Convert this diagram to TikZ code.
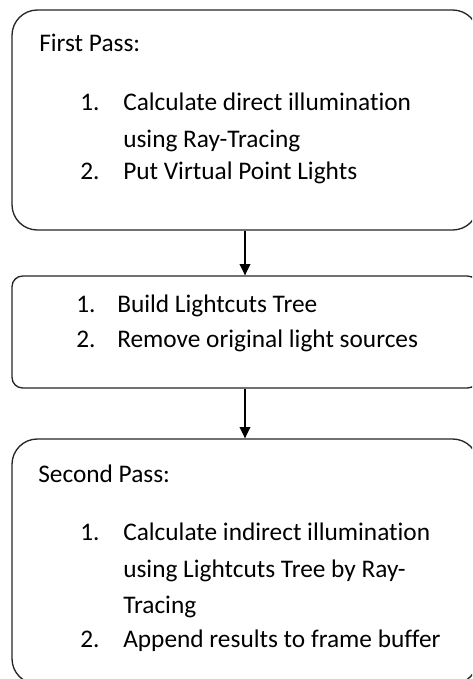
\documentclass[tikz,border=0pt]{standalone}
\usepackage{fontspec}
\setmainfont{Carlito}[Ligatures=NoCommon]
\usetikzlibrary{arrows.meta}
\begin{document}
\begin{tikzpicture}[x=0.75pt,y=-0.75pt,
  stage/.style={draw=black!85,line width=1pt,minimum width=466*0.75pt,inner sep=0pt},
  txt/.style={anchor=base west,inner sep=0pt,font=\fontsize{19pt}{22pt}\selectfont},
  flow/.style={draw=black,line width=1pt,-{Triangle[length=8.5pt,width=8pt]}}]
\useasboundingbox (0,0) rectangle (472,679);
\clip (0,0) rectangle (472,679);
\fill[white] (0,0) rectangle (472,679);

% the three stages of the renderer
\node[stage,rounded corners=19pt,minimum height=220*0.75pt] (first) at (245,120) {};
\node[stage,rounded corners=8pt,minimum height=112*0.75pt] (build) at (245,332) {};
\node[stage,rounded corners=19pt,minimum height=245*0.75pt] (second) at (245,561.5) {};

% first pass
\node[txt] (t1) at (39,51) {First Pass:};
\node[txt] (t1a) at (80,110) {1.};
\node[txt] (t1b) at (123,110) {Calculate direct illumination};
\node[txt] (t1c) at (123,147) {using Ray-Tracing};
\node[txt] (t1d) at (80,179) {2.};
\node[txt] (t1e) at (123,179) {Put Virtual Point Lights};

% lightcuts tree
\node[txt] (t2a) at (76,312) {1.};
\node[txt] (t2b) at (117,312) {Build Lightcuts Tree};
\node[txt] (t2c) at (76,347) {2.};
\node[txt] (t2d) at (117,347) {Remove original light sources};

% second pass
\node[txt] (t3) at (38,482) {Second Pass:};
\node[txt] (t3a) at (80,540) {1.};
\node[txt] (t3b) at (123,540) {Calculate indirect illumination};
\node[txt] (t3c) at (123,577) {using Lightcuts Tree by Ray-};
\node[txt] (t3d) at (123,613) {Tracing};
\node[txt] (t3e) at (80,647) {2.};
\node[txt] (t3f) at (123,647) {Append results to frame buffer};

% connectors
\draw[flow] (first) -- (build);
\draw[flow] (build) -- (second);
\end{tikzpicture}
\end{document}
